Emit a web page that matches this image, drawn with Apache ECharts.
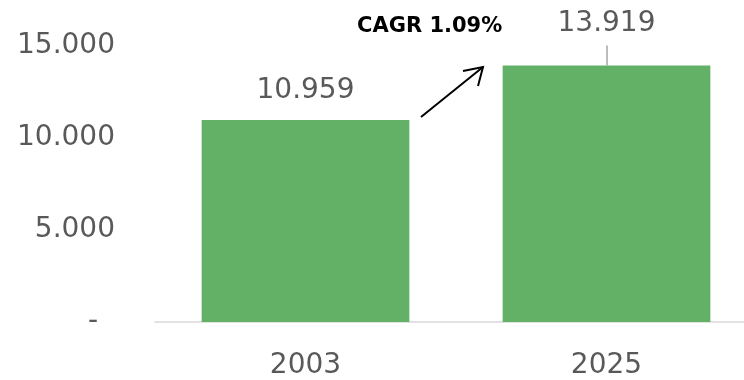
<!DOCTYPE html>
<html>
<head>
<meta charset="utf-8">
<style>
  html, body { margin: 0; padding: 0; background: #ffffff; }
  #chart { width: 744px; height: 380px; }
</style>
<script src="https://cdn.jsdelivr.net/npm/echarts@6/dist/echarts.min.js"></script>
</head>
<body>
<div id="chart"></div>
<script>
// Data
const years = ['2003', '2025'];
const values = [10959, 13919];
const yTicks = [0, 5000, 10000, 15000];
const cagrText = 'CAGR 1.09%';

const FONT = '"DejaVu Sans", sans-serif';
const TEXT_GREY = '#595959';
const BAR_GREEN = '#63b167';

// Thousands separator with a dot
function fmtNum(v) {
  return String(Math.round(v)).replace(/\B(?=(\d{3})+(?!\d))/g, '.');
}

const chart = echarts.init(document.getElementById('chart'), null, { renderer: 'canvas' });

const option = {
  animation: false,
  backgroundColor: '#ffffff',
  // the plot runs a little past the right edge, so the axis line reaches it
  grid: {
    left: 155, top: 45.5, right: -13, bottom: 58,
    containLabel: false,
    outerBoundsMode: 'none'
  },
  xAxis: {
    type: 'category',
    data: years,
    axisTick: { show: false },
    axisLine: { show: true, lineStyle: { color: '#d9d9d9', width: 1.5 } },
    axisLabel: {
      color: TEXT_GREY,
      fontFamily: FONT,
      fontSize: 28,
      margin: 30
    }
  },
  yAxis: {
    type: 'value',
    min: yTicks[0],
    max: yTicks[yTicks.length - 1],
    interval: yTicks[1] - yTicks[0],
    splitLine: { show: false },
    axisLine: { show: false },
    axisTick: { show: false },
    axisLabel: {
      color: TEXT_GREY,
      fontFamily: FONT,
      fontSize: 28,
      margin: 40,
      formatter: function (v) {
        return v === 0 ? '{dash|-}' : fmtNum(v);
      },
      rich: {
        dash: { color: TEXT_GREY, fontFamily: FONT, fontSize: 28, padding: [0, 17, 0, 0] }
      }
    }
  },
  series: [{
    type: 'bar',
    barCategoryGap: '31%',
    itemStyle: { color: BAR_GREEN },
    label: {
      show: true,
      position: 'top',
      distance: 15,
      color: TEXT_GREY,
      fontFamily: FONT,
      fontSize: 28,
      formatter: function (p) { return fmtNum(p.value); }
    },
    data: values.map(function (v, i) {
      // the later label sits higher, joined to its bar by a leader line
      return i === 1 ? { value: v, label: { distance: 28 } } : v;
    }),
    markLine: {
      silent: true,
      symbol: 'none',
      label: { show: false },
      lineStyle: { color: '#a6a6a6', width: 1.5, type: 'solid' },
      data: [[
        { coord: [years[1], values[1]] },
        { coord: [years[1], yTicks[yTicks.length - 1]] }
      ]]
    }
  }],
  graphic: [
    {
      type: 'text',
      left: 357,
      top: 16,
      style: {
        text: cagrText,
        fill: '#000000',
        font: 'bold 21px ' + FONT
      }
    },
    {
      type: 'line',
      shape: { x1: 421, y1: 117, x2: 483, y2: 67 },
      style: { stroke: '#000000', lineWidth: 2 }
    },
    {
      type: 'polyline',
      shape: { points: [[463, 71], [483, 67], [478, 86]] },
      style: { stroke: '#000000', lineWidth: 2, fill: null }
    }
  ]
};

chart.setOption(option);
</script>
</body>
</html>
